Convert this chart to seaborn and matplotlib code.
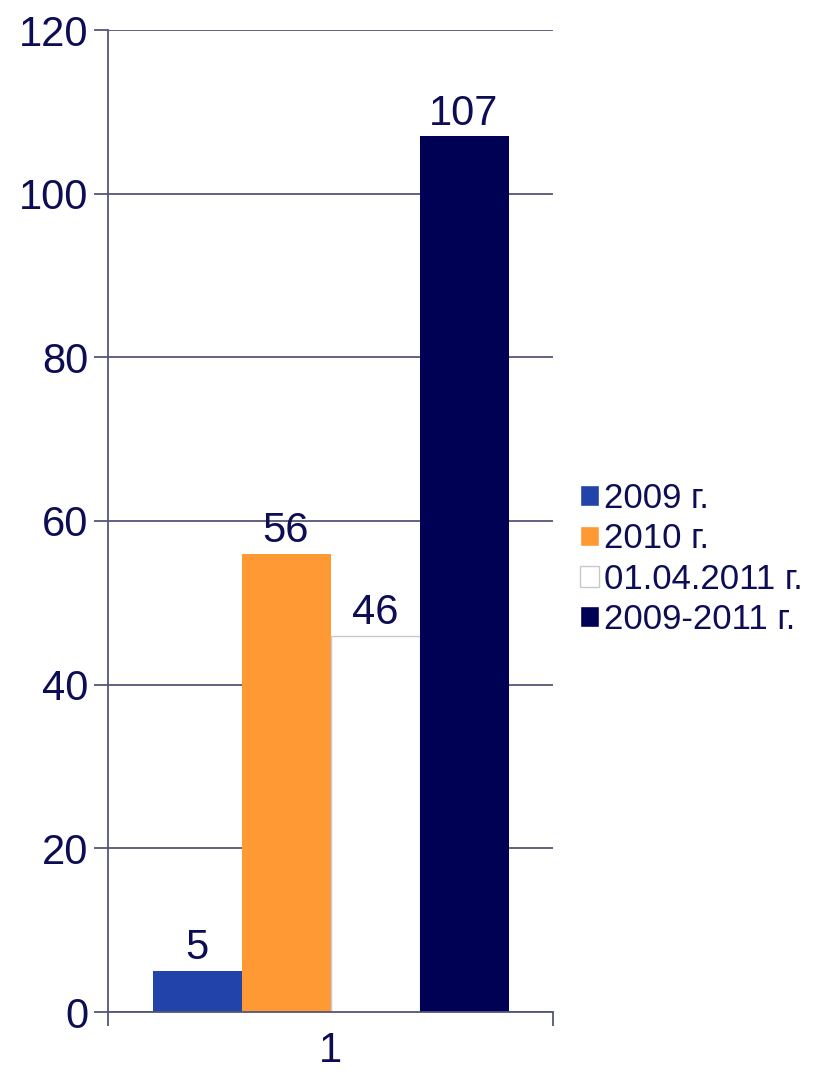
import matplotlib
matplotlib.use("Agg")
import matplotlib.pyplot as plt
import pandas as pd
import seaborn as sns

# Data
categories = ["1"]
series = ["2009 г.", "2010 г.", "01.04.2011 г.", "2009-2011 г."]
values = [5, 56, 46, 107]
colors = ["#2244aa", "#ff9933", "#ffffff", "#000055"]

df = pd.DataFrame({
    "category": categories * len(series),
    "series": series,
    "value": values,
})

sns.set_style("white")
plt.rcParams["font.family"] = ["Liberation Sans", "DejaVu Sans"]

text_color = "#0d0d55"
line_color = "#55557a"

fig = plt.figure(figsize=(8.14, 10.71), dpi=100)
ax = fig.add_axes([108 / 814, 1 - 1012 / 1071, (553 - 108) / 814, (1012 - 30) / 1071])

sns.barplot(data=df, x="category", y="value", hue="series", hue_order=series,
            palette=colors, width=0.8, ax=ax, legend=True, saturation=1)

for patch, c in zip(ax.patches, colors):
    if c == "#ffffff":
        patch.set_edgecolor("#c8c8c8")
        patch.set_linewidth(1)
    else:
        patch.set_edgecolor(c)
        patch.set_linewidth(0)

for cont in ax.containers:
    ax.bar_label(cont, fontsize=30, color=text_color, padding=2)

ax.set_ylim(0, 120)
ax.set_xlim(-0.5, 0.5)
ax.set_yticks(range(0, 121, 20))
ax.yaxis.grid(True, color=line_color, linewidth=1.3)
ax.set_axisbelow(True)
ax.tick_params(axis="y", labelsize=30, labelcolor=text_color, color=line_color,
               length=10, width=1.3, direction="out", left=True, pad=4)

ax.set_xticks([-0.5, 0.5])
ax.set_xticklabels(["", ""])
ax.set_xticks([0], minor=True)
ax.set_xticklabels(categories, minor=True)
ax.tick_params(axis="x", which="major", color=line_color, length=10, width=1.3,
               direction="out", bottom=True)
ax.tick_params(axis="x", which="minor", length=0, labelsize=30,
               labelcolor=text_color, pad=14)
ax.set_xlabel("")
ax.set_ylabel("")

for side in ["top", "right"]:
    ax.spines[side].set_visible(False)
for side in ["left", "bottom"]:
    ax.spines[side].set_color(line_color)
    ax.spines[side].set_linewidth(1.3)

handles, labels = ax.get_legend_handles_labels()
for h, c in zip(handles, colors):
    if c == "#ffffff":
        h.set_edgecolor("#c8c8c8")
        h.set_linewidth(1)
leg = ax.legend(handles, labels, loc="upper left", bbox_to_anchor=(580 / 814, 1 - 482 / 1071),
                bbox_transform=fig.transFigure, frameon=False, fontsize=25,
                handlelength=0.55, handleheight=0.55, handletextpad=0.15,
                labelspacing=0.21, borderaxespad=0, borderpad=0)
for t in leg.get_texts():
    t.set_color(text_color)

fig.savefig("out.png", dpi=100)
